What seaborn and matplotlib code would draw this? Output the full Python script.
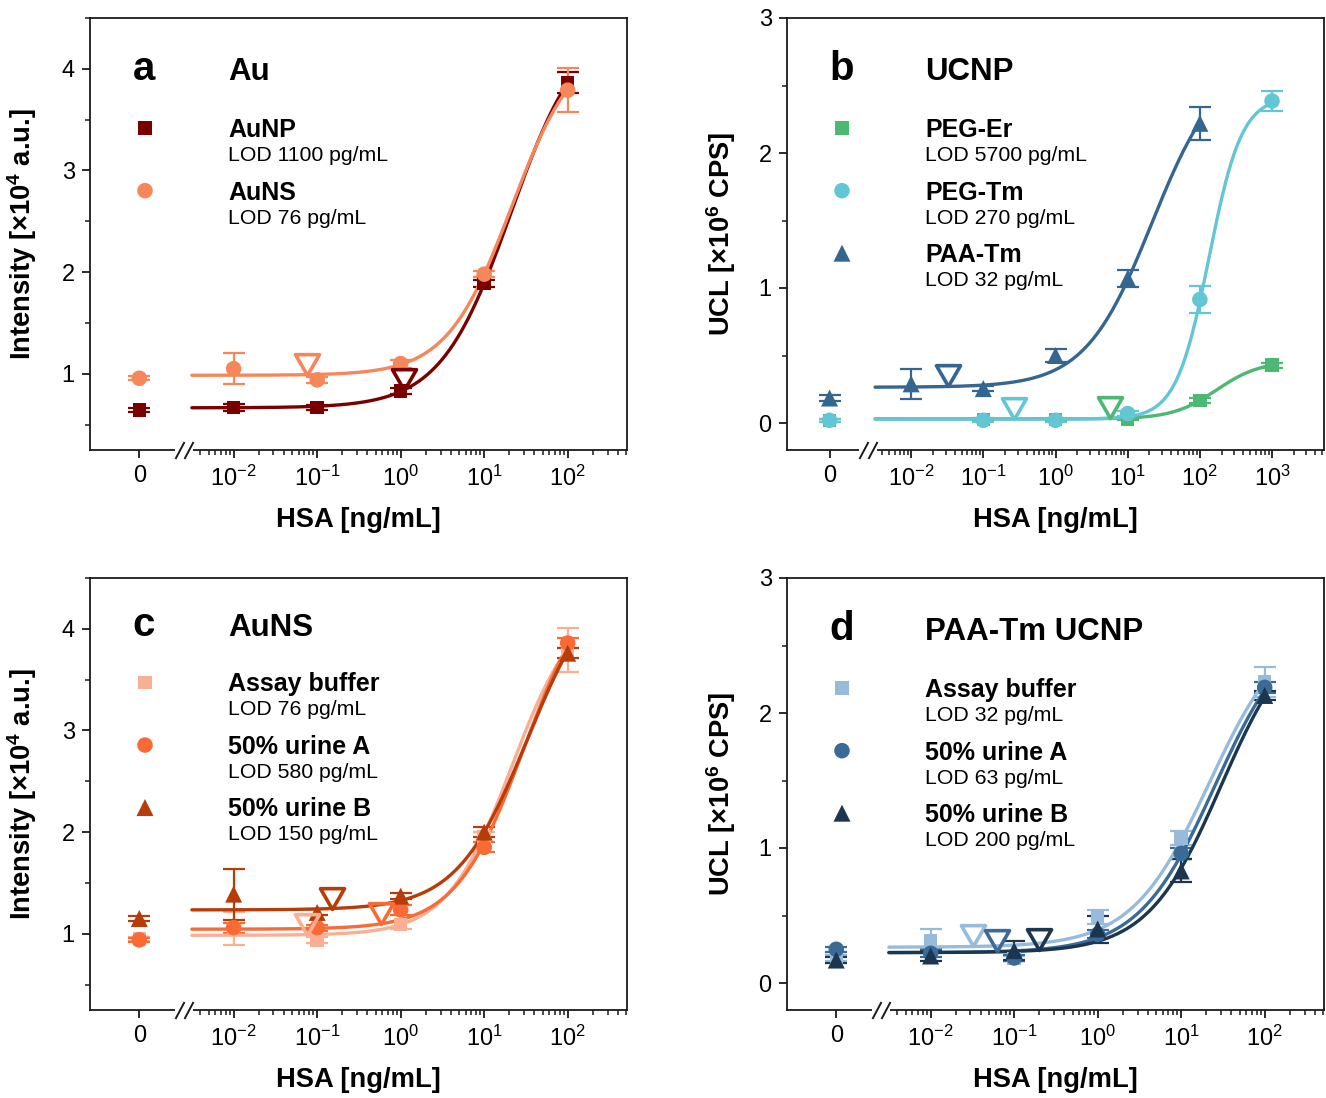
import numpy as np
import pandas as pd
import matplotlib
matplotlib.use("Agg")
import matplotlib.pyplot as plt
import matplotlib.transforms as mtransforms
from matplotlib.path import Path
from matplotlib.ticker import FixedLocator, MultipleLocator, NullFormatter
import seaborn as sns

# ---------------- data ----------------
conc6 = [0, 0.01, 0.1, 1, 10, 100]
conc_peg = [0, 0.1, 1, 10, 100, 1000]

# panel a  (Intensity x1e4 a.u.)
aunp_y = [0.645, 0.668, 0.668, 0.83, 1.888, 3.864]
aunp_err = [0.02, 0.03, 0.02, 0.03, 0.03, 0.10]
auns_y = [0.956, 1.05, 0.94, 1.10, 1.98, 3.79]
auns_err = [0.02, 0.155, 0.03, 0.04, 0.03, 0.215]

# panel b  (UCL x1e6 CPS)
peger_y = [0.02, 0.026, 0.026, 0.03, 0.167, 0.428]
peger_err = [0.01, 0.01, 0.01, 0.01, 0.02, 0.02]
pegtm_y = [0.02, 0.02, 0.02, 0.07, 0.915, 2.385]
pegtm_err = [0.01, 0.01, 0.01, 0.02, 0.10, 0.073]
paatm_y = [0.185, 0.29, 0.255, 0.50, 1.07, 2.22]
paatm_err = [0.02, 0.11, 0.02, 0.045, 0.06, 0.12]

# panel c  (Intensity x1e4 a.u.)
bufc_y = [0.95, 1.05, 0.94, 1.09, 1.95, 3.79]
bufc_err = [0.02, 0.16, 0.03, 0.04, 0.05, 0.215]
urac_y = [0.94, 1.06, 1.06, 1.235, 1.85, 3.86]
urac_err = [0.02, 0.05, 0.03, 0.05, 0.05, 0.05]
urbc_y = [1.15, 1.39, 1.21, 1.37, 2.0, 3.76]
urbc_err = [0.02, 0.25, 0.03, 0.03, 0.05, 0.05]

# panel d  (UCL x1e6 CPS)
bufd_y = [0.185, 0.31, 0.18, 0.49, 1.075, 2.23]
bufd_err = [0.02, 0.09, 0.02, 0.05, 0.05, 0.11]
urad_y = [0.25, 0.22, 0.185, 0.36, 0.96, 2.19]
urad_err = [0.02, 0.03, 0.02, 0.03, 0.04, 0.04]
urbd_y = [0.17, 0.20, 0.24, 0.40, 0.83, 2.13]
urbd_err = [0.02, 0.04, 0.07, 0.10, 0.085, 0.03]

# four-parameter logistic fit parameters: bottom, top, EC50 (ng/mL), Hill slope
fit_a = {"AuNP": (0.665, 4.5, 20.9, 1.03), "AuNS": (0.985, 4.3, 21.3, 1.118)}
fit_b = {"PEG-Er": (0.03, 0.46, 170.6, 1.425), "PEG-Tm": (0.03, 2.42, 134.0, 1.91),
         "PAA-Tm": (0.265, 2.7, 21.7, 0.936)}
fit_c = {"Assay buffer": (0.985, 4.3, 21.3, 1.118), "50% urine A": (1.045, 4.6, 29.8, 1.065),
         "50% urine B": (1.235, 4.6, 33.1, 1.023)}
fit_d = {"Assay buffer": (0.265, 2.7, 21.7, 0.936), "50% urine A": (0.225, 2.7, 25.4, 0.947),
         "50% urine B": (0.225, 2.7, 30.1, 0.985)}

# LOD values (ng/mL)
lod_a = {"AuNP": 1.1, "AuNS": 0.076}
lod_b = {"PEG-Er": 5.7, "PEG-Tm": 0.27, "PAA-Tm": 0.032}
lod_c = {"Assay buffer": 0.076, "50% urine A": 0.58, "50% urine B": 0.15}
lod_d = {"Assay buffer": 0.032, "50% urine A": 0.063, "50% urine B": 0.2}

lod_text_a = ["LOD 1100 pg/mL", "LOD 76 pg/mL"]
lod_text_b = ["LOD 5700 pg/mL", "LOD 270 pg/mL", "LOD 32 pg/mL"]
lod_text_c = ["LOD 76 pg/mL", "LOD 580 pg/mL", "LOD 150 pg/mL"]
lod_text_d = ["LOD 32 pg/mL", "LOD 63 pg/mL", "LOD 200 pg/mL"]

# ---------------- style ----------------
sns.set_theme(style="ticks")
plt.rcParams["font.family"] = ["Liberation Sans", "DejaVu Sans"]
plt.rcParams["mathtext.fontset"] = "custom"
plt.rcParams["mathtext.rm"] = "Liberation Sans"
plt.rcParams["mathtext.it"] = "Liberation Sans:italic"
plt.rcParams["mathtext.bf"] = "Liberation Sans:bold"
plt.rcParams["axes.unicode_minus"] = True
plt.rcParams["text.color"] = "black"
plt.rcParams["axes.labelcolor"] = "black"
plt.rcParams["xtick.color"] = "black"
plt.rcParams["ytick.color"] = "black"

ZERO_LOG = -3.13
ZERO_POS = 10 ** ZERO_LOG
BREAK_POS = 10 ** -2.6
CURVE_START = 10 ** -2.5

SPINE_C = "#1a1a1a"

tri_open = Path([(0, 0), (-0.5, 0.866), (0.5, 0.866), (0, 0)],
                [Path.MOVETO, Path.LINETO, Path.LINETO, Path.CLOSEPOLY])
slash_path = Path([(-9, -8.5), (0, 8.5), (0, -8.5), (9, 8.5)],
                  [Path.MOVETO, Path.LINETO, Path.MOVETO, Path.LINETO])

MARKERS = {"s": 95, "o": 125, "^": 150}


def four_pl(x, p):
    bot, top, c, b = p
    x = np.asarray(x, dtype=float)
    return bot + (top - bot) / (1.0 + (c / x) ** b)


def xpos(conc):
    c = np.asarray(conc, dtype=float)
    return np.where(c == 0, ZERO_POS, c)


fig = plt.figure(figsize=(13.26, 10.98), dpi=100)
W, H = 537 / 1326, 432 / 1098
pos = {"a": [90 / 1326, 1 - 450 / 1098, W, H],
       "b": [787 / 1326, 1 - 450 / 1098, W, H],
       "c": [90 / 1326, 1 - 1010 / 1098, W, H],
       "d": [787 / 1326, 1 - 1010 / 1098, W, H]}


def setup_axes(ax, xmax_log, ylim, yticks, ylabel, majors):
    ax.set_xscale("log")
    ax.set_xlim(10 ** -3.72, 10 ** xmax_log)
    ax.set_ylim(*ylim)
    ticks = [ZERO_POS] + [10.0 ** k for k in majors]
    labels = ["0"] + [r"$10^{%d}$" % k for k in majors]
    ax.xaxis.set_major_locator(FixedLocator(ticks))
    ax.set_xticklabels(labels)
    minors = [m * 1e-3 for m in range(4, 10)]
    for k in range(-2, int(np.ceil(xmax_log))):
        for m in range(2, 10):
            v = m * 10.0 ** k
            if np.log10(v) <= xmax_log:
                minors.append(v)
    ax.xaxis.set_minor_locator(FixedLocator(minors))
    ax.xaxis.set_minor_formatter(NullFormatter())
    ax.set_yticks(yticks)
    ax.yaxis.set_minor_locator(MultipleLocator(0.5))
    ax.tick_params(axis="both", which="major", direction="out", length=6, width=1.3,
                   labelsize=17, pad=5, color=SPINE_C, labelcolor="black")
    ax.tick_params(axis="both", which="minor", direction="out", length=3.8, width=1.1,
                   color=SPINE_C)
    ax.tick_params(top=False, right=False, which="both")
    for s in ax.spines.values():
        s.set_visible(True)
        s.set_linewidth(1.3)
        s.set_color(SPINE_C)
    ax.set_xlabel("HSA [ng/mL]", fontsize=19.7, fontweight="bold", color="black")
    ax.xaxis.set_label_coords(0.5, -0.133)
    ax.set_ylabel(ylabel, fontsize=19.7, fontweight="bold", color="black")
    ax.grid(False)
    # axis break "//"
    blend = mtransforms.blended_transform_factory(ax.transData, ax.transAxes)
    ax.plot([BREAK_POS], [0], marker="_", ms=13, mew=4, color="white",
            transform=blend, clip_on=False, zorder=6)
    ax.plot([BREAK_POS], [0], marker=slash_path, ms=13, mew=1.4, mfc="none",
            mec=SPINE_C, linestyle="none", transform=blend, clip_on=False, zorder=7)


def draw_series(ax, conc, y, err, fit, lod, color, marker):
    xp = xpos(conc)
    ax.errorbar(xp, y, yerr=err, fmt="none", ecolor=color, elinewidth=1.6,
                capsize=8, capthick=1.6, zorder=2)
    xc = np.logspace(np.log10(CURVE_START), np.log10(max(conc)), 300)
    curve = pd.DataFrame({"x": xc, "y": four_pl(xc, fit)})
    sns.lineplot(data=curve, x="x", y="y", ax=ax, color=color, linewidth=2.4,
                 estimator=None, sort=False, legend=False, zorder=3)
    pts = pd.DataFrame({"x": xp, "y": y})
    sns.scatterplot(data=pts, x="x", y="y", ax=ax, marker=marker, s=MARKERS[marker],
                    color=color, edgecolor="none", linewidth=0, legend=False, zorder=4)
    ax.plot([lod], [four_pl([lod], fit)[0]], linestyle="none", marker=tri_open, ms=30,
            mfc="none", mec=color, mew=2.6, zorder=5)


def draw_key(ax, letter, title, names, lods, colors, markers, dy=0.0, dyt=0.0):
    ax.text(0.079, 0.8565 + dyt, letter, transform=ax.transAxes, fontsize=29,
            fontweight="bold", va="baseline", ha="left", color="black")
    ax.text(0.257, 0.8565 + dyt, title, transform=ax.transAxes, fontsize=22.5,
            fontweight="bold", va="baseline", ha="left", color="black")
    for i, (n, l, c, m) in enumerate(zip(names, lods, colors, markers)):
        yb = 0.7245 - i * 0.1447 + dy
        ax.text(0.257, yb, n, transform=ax.transAxes, fontsize=18, fontweight="bold",
                va="baseline", ha="left", color="black")
        ax.text(0.257, yb - 0.0555, l, transform=ax.transAxes, fontsize=15.3,
                va="baseline", ha="left", color="black")
        ax.scatter([0.1024], [0.745 - i * 0.1447 + dy], transform=ax.transAxes,
                   marker=m, s=MARKERS[m], color=c, edgecolor="none", clip_on=False,
                   zorder=6)


int_label = r"Intensity [×10$^{\mathbf{4}}$ a.u.]"
ucl_label = r"UCL [×10$^{\mathbf{6}}$ CPS]"

# ---------------- panel a ----------------
ax = fig.add_axes(pos["a"])
setup_axes(ax, 2.71, (0.25, 4.5), [1, 2, 3, 4], int_label, [-2, -1, 0, 1, 2])
ax.yaxis.set_label_coords(-0.095, 0.5)
cols_a = ["#7a0000", "#f5875b"]
draw_series(ax, conc6, aunp_y, aunp_err, fit_a["AuNP"], lod_a["AuNP"], cols_a[0], "s")
draw_series(ax, conc6, auns_y, auns_err, fit_a["AuNS"], lod_a["AuNS"], cols_a[1], "o")
draw_key(ax, "a", "Au", ["AuNP", "AuNS"], lod_text_a, cols_a, ["s", "o"])

# ---------------- panel b ----------------
ax = fig.add_axes(pos["b"])
setup_axes(ax, 3.72, (-0.2, 3.0), [0, 1, 2, 3], ucl_label, [-2, -1, 0, 1, 2, 3])
ax.yaxis.set_label_coords(-0.091, 0.5)
cols_b = ["#4db874", "#62c6d4", "#356690"]
draw_series(ax, conc_peg, peger_y, peger_err, fit_b["PEG-Er"], lod_b["PEG-Er"], cols_b[0], "s")
draw_series(ax, conc_peg, pegtm_y, pegtm_err, fit_b["PEG-Tm"], lod_b["PEG-Tm"], cols_b[1], "o")
draw_series(ax, conc6, paatm_y, paatm_err, fit_b["PAA-Tm"], lod_b["PAA-Tm"], cols_b[2], "^")
draw_key(ax, "b", "UCNP", ["PEG-Er", "PEG-Tm", "PAA-Tm"], lod_text_b, cols_b, ["s", "o", "^"])

# ---------------- panel c ----------------
ax = fig.add_axes(pos["c"])
setup_axes(ax, 2.71, (0.25, 4.5), [1, 2, 3, 4], int_label, [-2, -1, 0, 1, 2])
ax.yaxis.set_label_coords(-0.095, 0.5)
cols_c = ["#f8af94", "#f96a35", "#b83c0a"]
names_c = ["Assay buffer", "50% urine A", "50% urine B"]
for n, yv, ev, c, m in zip(names_c, [bufc_y, urac_y, urbc_y], [bufc_err, urac_err, urbc_err],
                           cols_c, ["s", "o", "^"]):
    draw_series(ax, conc6, yv, ev, fit_c[n], lod_c[n], c, m)
draw_key(ax, "c", "AuNS", names_c, lod_text_c, cols_c, ["s", "o", "^"], dy=0.013, dyt=0.01)

# ---------------- panel d ----------------
ax = fig.add_axes(pos["d"])
setup_axes(ax, 2.71, (-0.2, 3.0), [0, 1, 2, 3], ucl_label, [-2, -1, 0, 1, 2])
ax.yaxis.set_label_coords(-0.091, 0.5)
cols_d = ["#96bbdb", "#3a6a96", "#1d3650"]
names_d = ["Assay buffer", "50% urine A", "50% urine B"]
for n, yv, ev, c, m in zip(names_d, [bufd_y, urad_y, urbd_y], [bufd_err, urad_err, urbd_err],
                           cols_d, ["s", "o", "^"]):
    draw_series(ax, conc6, yv, ev, fit_d[n], lod_d[n], c, m)
draw_key(ax, "d", "PAA-Tm UCNP", names_d, lod_text_d, cols_d, ["s", "o", "^"])

fig.savefig("out.png", dpi=100)
